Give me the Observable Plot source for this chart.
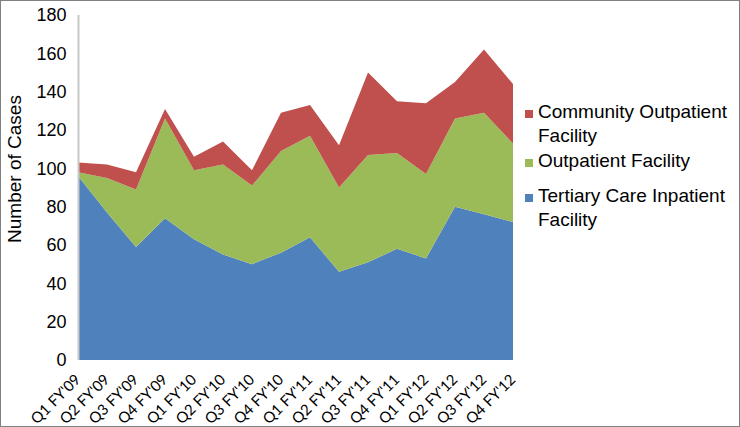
<!DOCTYPE html>
<html><head><meta charset="utf-8">
<script src="https://cdn.jsdelivr.net/npm/d3@7"></script>
<script src="https://cdn.jsdelivr.net/npm/@observablehq/plot@0.6"></script>
<style>
body{margin:0;background:#fff;font-family:"Liberation Sans",Arial,sans-serif;}
#wrap{position:relative;width:740px;height:427px;overflow:hidden;background:#fff}
#border{position:absolute;left:0;top:0;width:740px;height:427px;box-sizing:border-box;border:1px solid #808080;pointer-events:none}
.leg{position:absolute;left:525px;font-size:19px;line-height:24px;color:#000;white-space:pre-line}
.leg .sw{position:absolute;left:0;top:10px;width:8px;height:8px}
.leg .lb{margin-left:13px}
</style></head><body><div id="wrap"></div>
<script>
const quarters = ["Q1 FY'09","Q2 FY'09","Q3 FY'09","Q4 FY'09","Q1 FY'10","Q2 FY'10","Q3 FY'10","Q4 FY'10",
  "Q1 FY'11","Q2 FY'11","Q3 FY'11","Q4 FY'11","Q1 FY'12","Q2 FY'12","Q3 FY'12","Q4 FY'12"];
const tertiary   = [96, 77, 59, 74, 63, 55, 50, 56, 64, 46, 51, 58, 53, 80, 76, 72];
const outpatient = [ 2, 18, 30, 52, 36, 47, 41, 53, 53, 44, 56, 50, 44, 46, 53, 41];
const community  = [ 5,  7,  9,  5,  7, 12,  8, 20, 16, 22, 43, 27, 37, 19, 33, 31];
const seriesNames = ["Tertiary Care Inpatient Facility","Outpatient Facility","Community Outpatient Facility"];
const seriesColors = ["#4F81BD","#9BBB59","#C0504D"];
const legendLabels = ["Community Outpatient\nFacility","Outpatient Facility","Tertiary Care Inpatient\nFacility"];
const legendSeries = [2,1,0];
const yTicks = d3.range(0,181,20);
const yTitle = "Number of Cases";

const seriesValues = [tertiary, outpatient, community];
const data = [];
seriesValues.forEach((vals, si) => vals.forEach((v, i) => data.push({q: quarters[i], v, s: seriesNames[si]})));

const chart = Plot.plot({
  width: 740, height: 427,
  marginLeft: 77, marginRight: 227, marginTop: 15, marginBottom: 67,
  style: {fontFamily: "'Liberation Sans', Arial, sans-serif", color: "#000", background: "transparent"},
  x: {type: "point", domain: quarters, padding: 0, axis: null},
  y: {domain: [0, 180], axis: null},
  color: {domain: seriesNames, range: seriesColors},
  marks: [
    Plot.areaY(data, {x: "q", y: "v", fill: "s", z: "s", order: seriesNames}),
    Plot.ruleX([quarters[0]], {stroke: "#c8c8c8", strokeWidth: 2}),
    Plot.axisY({ticks: yTicks, tickSize: 0, tickPadding: 11, fontSize: 18, label: null, tickFormat: d => d}),
    Plot.text(quarters, {x: d => d, frameAnchor: "bottom", rotate: -45, textAnchor: "end", dx: 3, dy: 20, fontSize: 15, fontFamily: "Lato, 'Open Sans', sans-serif", fill: "#000"}),
    Plot.text([yTitle], {frameAnchor: "left", rotate: -90, textAnchor: "middle", dx: -63, dy: -19, fontSize: 19, fill: "#000"})
  ]
});
const wrap = document.getElementById("wrap");
wrap.appendChild(chart);
const tops = [100, 149, 184];
legendLabels.forEach((lab, i) => {
  const d = document.createElement("div");
  d.className = "leg";
  d.style.top = tops[i] + "px";
  const sw = document.createElement("div");
  sw.className = "sw";
  sw.style.background = seriesColors[legendSeries[i]];
  const lb = document.createElement("div");
  lb.className = "lb";
  lb.textContent = lab;
  d.appendChild(sw); d.appendChild(lb);
  wrap.appendChild(d);
});
const b = document.createElement("div"); b.id = "border"; wrap.appendChild(b);
</script></body></html>
